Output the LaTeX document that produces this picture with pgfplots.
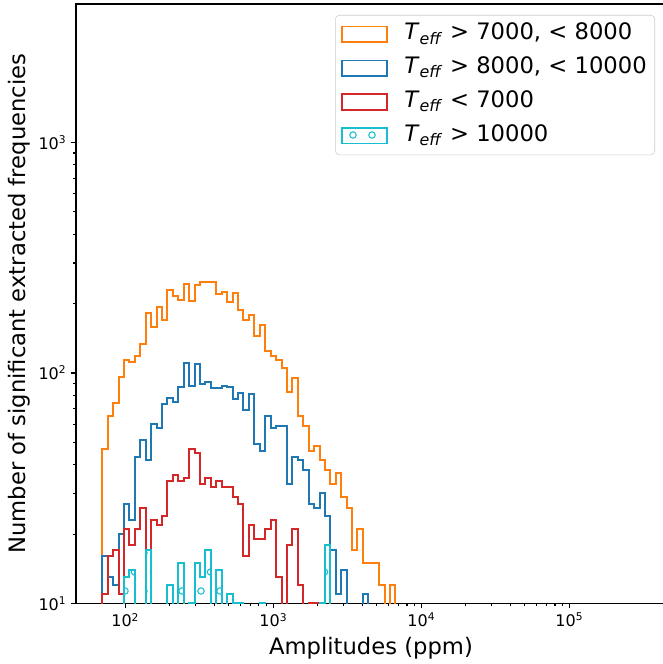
\documentclass[border=0pt]{standalone}
\usepackage{fontspec}
\setmainfont{DejaVu Sans}
\usepackage{pgfplots}
\usepackage{pgfplotstable}
\pgfplotsset{compat=1.18}
\usetikzlibrary{patterns}
\definecolor{tabor}{HTML}{FF7F0E}
\definecolor{tabbl}{HTML}{1F77B4}
\definecolor{tabrd}{HTML}{D62728}
\definecolor{tabcy}{HTML}{17BECF}
\pgfdeclarepatternformonly{hcircles}{\pgfqpoint{-1.9pt}{0.65pt}}{\pgfqpoint{12.35pt}{29.15pt}}{\pgfqpoint{14.25pt}{28.5pt}}{%
  \pgfsetlinewidth{0.8pt}%
  \pgfpathcircle{\pgfqpoint{8.25pt}{26.25pt}}{2.4pt}%
  \pgfpathcircle{\pgfqpoint{1.125pt}{12pt}}{2.4pt}%
  \pgfusepath{stroke}}

% bin left edges (ppm) and counts; 1 = empty bin (below the axis)
\pgfplotstableread{
x y
69.9 1
69.9 47
76.1 65
82.8 74
90.1 96
98.0 114
106.7 112
116.1 119
126.3 133
137.4 182
149.6 159
162.7 194
177.1 170
192.7 229
209.7 216
228.1 207
248.2 244
270.1 205
293.9 241
319.8 248
348.0 248
378.6 248
412.0 221
448.3 224
487.8 204
531.1 223
577.9 188
628.8 170
684.3 179
744.6 145
810.2 162
881.6 125
959.4 119
1043 114
1136 105
1236 83
1345 95
1464 65
1593 59
1733 46
1886 48
2052 42
2233 38
2429 33
2643 37
2876 29
3130 26
3405 17
3705 21
4032 15
4387 15
4774 15
5194 12
5652 1
6150 12
6692 1
}\torange

\pgfplotstableread{
x y
69.9 1
69.9 16
76.1 13
82.8 12
90.1 20
98.0 27
106.7 23
116.1 43
126.3 51
137.4 42
149.6 60
162.7 58
177.1 73
192.7 78
209.7 75
228.1 87
248.2 110
270.1 88
293.9 109
319.8 90
348.0 91
378.6 86
412.0 86
448.3 88
487.8 87
531.1 77
577.9 82
628.8 69
684.3 81
744.6 49
810.2 46
881.6 65
959.4 58
1043 59
1136 59
1236 33
1345 43
1464 42
1593 38
1733 27
1886 26
2052 30
2233 24
2429 17
2643 11
2876 14
3130 1
3405 1
3705 1
4032 11
4387 1
}\tblue

\pgfplotstableread{
x y
69.9 1
69.9 11
76.1 16
82.8 17
90.1 11
98.0 21
106.7 18
116.1 21
126.3 26
137.4 17
149.6 23
162.7 22
177.1 24
192.7 34
209.7 36
228.1 34
248.2 35
270.1 47
293.9 45
319.8 33
348.0 35
378.6 32
412.0 34
448.3 32
487.8 32
531.1 29
577.9 27
628.8 16
684.3 22
744.6 19
810.2 19
881.6 21
959.4 23
1043 13
1136 1
1236 18
1345 21
1464 12
1593 1
1733 10
1886 10
2052 1
}\tred

\pgfplotstableread{
x y
98.0 1
98.0 13
106.7 14
116.1 1
126.3 1
137.4 17
149.6 1
162.7 1
177.1 1
192.7 12
209.7 1
228.1 15
248.2 1
270.1 10
293.9 15
319.8 13
348.0 17
378.6 1
412.0 14
448.3 1
487.8 11
531.1 10
577.9 10
628.8 1
684.3 1
744.6 1
810.2 10
881.6 1
959.4 1
1043 1
1136 1
1236 1
1345 1
1464 1
1593 1
1733 1
1886 1
2052 10
2233 18
2429 1
}\tcyan

\begin{document}
\begin{tikzpicture}
\begin{axis}[
  name=ax,
  xmode=log, ymode=log,
  scale only axis, width=442.5pt, height=449.6pt,
  xmin=46.45, xmax=4.5e5, ymin=10, ymax=3990,
  axis line style={line width=0.8pt},
  tick align=outside, tick pos=left,
  major tick length=3.7pt, minor tick length=2.1pt,
  every tick/.style={black, line width=0.8pt},
  tick label style={font=\fontsize{12}{14}\selectfont},
  log number format basis/.code 2 args={#1\textsuperscript{\pgfmathprintnumber{#2}}},
  /pgf/number format/assume math mode=true,
  xtick={100,1000,10000,100000}, ytick={10,100,1000},
  xlabel={Amplitudes (ppm)},
  ylabel={Number of significant extracted frequencies},
  label style={font=\fontsize{17}{20}\selectfont},
  x label style={at={(axis description cs:0.5,-0.0742)}, anchor=center},
  y label style={at={(axis description cs:-0.0966,0.5)}, anchor=center},
  legend cell align=left,
  legend style={at={(1,1)}, anchor=north east, xshift=-8.25pt, yshift=-8.25pt,
    draw=black!20, rounded corners=3pt, fill=white, fill opacity=0.8, text opacity=1,
    font=\fontsize{17}{20}\selectfont, inner xsep=4.5pt, inner ysep=4.5pt, row sep=5.9pt,
    nodes={inner sep=1.5pt, text height=12.5pt, text depth=4pt},
    /tikz/every odd column/.append style={column sep=11pt}},
  legend image code/.code={\draw[#1, line width=1.1pt, sharp corners] (0pt,-5.9pt) rectangle (33.6pt,5.9pt);},
  every axis plot/.append style={line width=1.5pt, const plot},
]
\addplot[tabor] table[x=x,y=y] {\torange};
\addlegendentry{\textit{T}\textsubscript{\textit{eff}} > 7000, < 8000}
\addplot[tabbl] table[x=x,y=y] {\tblue};
\addlegendentry{\textit{T}\textsubscript{\textit{eff}} > 8000, < 10000}
\addplot[tabrd] table[x=x,y=y] {\tred};
\addlegendentry{\textit{T}\textsubscript{\textit{eff}} < 7000}
\addplot[tabcy, pattern=hcircles, pattern color=tabcy] table[x=x,y=y] {\tcyan};
\addlegendentry{\textit{T}\textsubscript{\textit{eff}} > 10000}
\end{axis}
\pgfresetboundingbox
\path[use as bounding box] ([xshift=-57pt,yshift=-45.4pt]ax.south west) rectangle ([xshift=-2.25pt,yshift=3pt]ax.north east);
\end{tikzpicture}
\end{document}
